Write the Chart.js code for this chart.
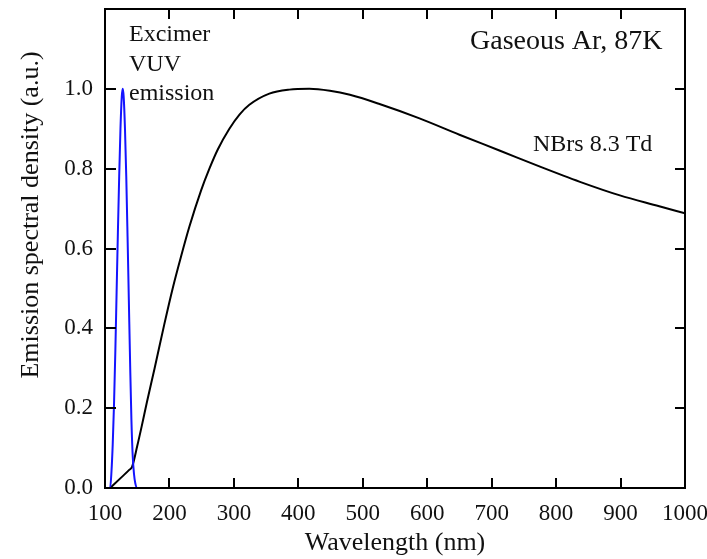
<!DOCTYPE html>
<html>
<head>
<meta charset="utf-8">
<script src="https://cdn.jsdelivr.net/npm/chart.js@4.4.1/dist/chart.umd.min.js"></script>
<style>
  html, body { margin: 0; padding: 0; background: #fff; }
  #wrap { width: 707px; height: 559px; }
</style>
</head>
<body>
<div id="wrap"><canvas id="myChart" width="707" height="559"></canvas></div>
<script>
// NBrs 8.3 Td spectrum (black)
var nbrsWl  = [108, 125, 138, 142, 150, 157, 165, 177, 192, 205, 218, 231, 249, 262, 275, 293, 309, 324, 355, 386, 417, 449, 480, 526, 588, 650, 713, 775, 837, 899, 960, 1000];
var nbrsVal = [0, 0.026, 0.046, 0.053, 0.105, 0.155, 0.215, 0.30, 0.41, 0.50, 0.58, 0.655, 0.745, 0.80, 0.848, 0.90, 0.936, 0.96, 0.988, 0.998, 1.0, 0.995, 0.985, 0.962, 0.926, 0.885, 0.845, 0.805, 0.767, 0.733, 0.706, 0.688];

// excimer VUV emission (blue)
var vuvWl  = [100, 108, 110, 112, 114, 116, 118, 120, 122, 124, 126, 127.5, 129, 131, 133, 135, 137, 139, 141, 143, 145, 147, 150, 168];
var vuvVal = [0, 0, 0.04, 0.11, 0.21, 0.34, 0.49, 0.64, 0.78, 0.9, 0.98, 1.0, 0.98, 0.9, 0.78, 0.63, 0.47, 0.31, 0.17, 0.08, 0.035, 0.012, 0, 0];

var xTicks = [100, 200, 300, 400, 500, 600, 700, 800, 900, 1000];
var yTicks = [0, 0.2, 0.4, 0.6, 0.8, 1.0];

var serif = '"Liberation Serif", "Times New Roman", serif';

function toPoints(xs, ys){
    var pts = [];
    for (var i = 0; i < xs.length; i++) pts.push({x: xs[i], y: ys[i]});
    return pts;
}

function noPad(s){
    s.paddingLeft = 0; s.paddingRight = 0; s.paddingTop = 0; s.paddingBottom = 0;
}

// frame, inward ticks on all four sides, axis titles and notes
var framePlugin = {
    id: 'frame',
    afterDraw: function(chart){
        var ctx = chart.ctx;
        var a = chart.chartArea;
        var xs = chart.scales.x, ys = chart.scales.y;
        ctx.save();
        ctx.strokeStyle = '#000';
        ctx.lineWidth = 2;
        ctx.strokeRect(a.left, a.top, a.right - a.left, a.bottom - a.top);
        ctx.beginPath();
        xTicks.forEach(function(v){
            var px = Math.round(xs.getPixelForValue(v));
            ctx.moveTo(px, a.bottom); ctx.lineTo(px, a.bottom - 10);
            ctx.moveTo(px, a.top); ctx.lineTo(px, a.top + 10);
        });
        yTicks.forEach(function(v){
            var py = Math.round(ys.getPixelForValue(v));
            ctx.moveTo(a.left, py); ctx.lineTo(a.left + 11, py);
            ctx.moveTo(a.right, py); ctx.lineTo(a.right - 10, py);
        });
        ctx.stroke();

        ctx.fillStyle = '#111';
        ctx.textBaseline = 'alphabetic';
        ctx.font = '26px ' + serif;
        ctx.textAlign = 'center';
        ctx.fillText('Wavelength (nm)', (a.left + a.right) / 2, 550);
        ctx.save();
        ctx.translate(38, 215);
        ctx.rotate(-Math.PI / 2);
        ctx.fillText('Emission spectral density (a.u.)', 0, 0);
        ctx.restore();

        ctx.textAlign = 'left';
        ctx.font = '24px ' + serif;
        ctx.fillText('Excimer', 129, 41);
        ctx.fillText('VUV', 129, 71);
        ctx.fillText('emission', 129, 100);
        ctx.font = '28px ' + serif;
        ctx.fillText('Gaseous Ar, 87K', 470, 49);
        ctx.font = '24px ' + serif;
        ctx.fillText('NBrs 8.3 Td', 533, 151);
        ctx.restore();
    }
};

var ctx = document.getElementById('myChart').getContext('2d');
var myChart = new Chart(ctx, {
    type: 'line',
    data: {
        datasets: [{
            label: 'Excimer VUV emission',
            data: toPoints(vuvWl, vuvVal),
            borderColor: 'rgb(20, 20, 255)',
            borderWidth: 2,
            pointRadius: 0,
            cubicInterpolationMode: 'monotone',
            fill: false
        }, {
            label: 'NBrs 8.3 Td',
            data: toPoints(nbrsWl, nbrsVal),
            borderColor: '#000',
            borderWidth: 2,
            pointRadius: 0,
            cubicInterpolationMode: 'monotone',
            fill: false
        }]
    },
    options: {
        responsive: false,
        animation: false,
        layout: { padding: { top: 9, right: 22, left: 0, bottom: 0 } },
        plugins: { legend: { display: false }, tooltip: { enabled: false } },
        scales: {
            x: {
                type: 'linear',
                min: 100,
                max: 1000,
                afterFit: function(s){ s.height = 71; noPad(s); },
                afterBuildTicks: function(s){ s.ticks = xTicks.map(function(v){ return {value: v}; }); },
                grid: { display: false, drawTicks: false },
                border: { display: false },
                ticks: {
                    padding: 12,
                    maxRotation: 0,
                    color: '#111',
                    font: { family: serif, size: 23 },
                    callback: function(v){ return String(v); }
                }
            },
            y: {
                type: 'linear',
                min: 0,
                max: 1.2,
                afterFit: function(s){ s.width = 105; noPad(s); },
                afterBuildTicks: function(s){ s.ticks = yTicks.map(function(v){ return {value: v}; }); },
                grid: { display: false, drawTicks: false },
                border: { display: false },
                ticks: {
                    padding: 12,
                    color: '#111',
                    font: { family: serif, size: 23 },
                    callback: function(v){ return Number(v).toFixed(1); }
                }
            }
        }
    },
    plugins: [framePlugin]
});
</script>
</body>
</html>
